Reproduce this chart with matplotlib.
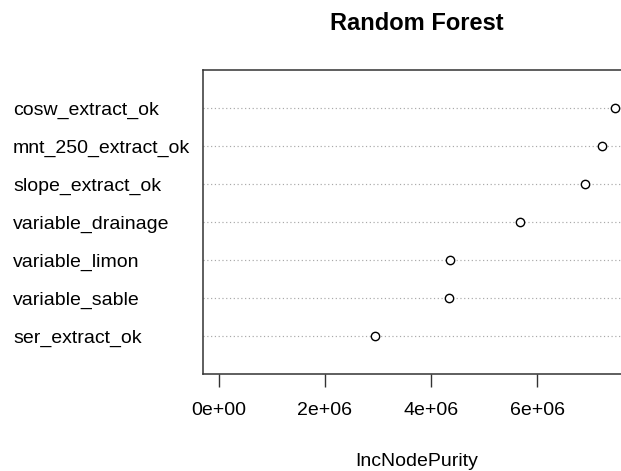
import matplotlib
matplotlib.use("Agg")
import matplotlib.pyplot as plt

# Variable importance from the random forest (IncNodePurity), bottom to top
variables = ["ser_extract_ok", "variable_sable", "variable_limon",
             "variable_drainage", "slope_extract_ok", "mnt_250_extract_ok",
             "cosw_extract_ok"]
purity = [2.94e6, 4.33e6, 4.36e6, 5.67e6, 6.90e6, 7.23e6, 7.47e6]
xticks = [0, 2e6, 4e6, 6e6]
xtick_labels = ["0e+00", "2e+06", "4e+06", "6e+06"]

plt.rcParams["font.family"] = ["Liberation Sans", "DejaVu Sans"]

W, H, DPI = 621, 471, 100
fig = plt.figure(figsize=(W / DPI, H / DPI), dpi=DPI)

# plot region in pixels (right edge runs past the canvas)
left_px, right_px, top_px, bottom_px = 203, 631, 70, 374
ax = fig.add_axes([left_px / W, 1 - bottom_px / H,
                   (right_px - left_px) / W, (bottom_px - top_px) / H])

ypos = list(range(1, len(variables) + 1))

# dotted guide lines across the plot at each variable
for y in ypos:
    ax.axhline(y, color="#a8a8a8", linestyle=(0, (1, 2.2)), linewidth=0.85,
               zorder=1)

ax.plot(purity, ypos, linestyle="none", marker="o", markersize=6,
        markerfacecolor="white", markeredgecolor="black",
        markeredgewidth=1.0, zorder=3)

xmax = max(purity)
pad = 0.04 * xmax
ax.set_xlim(0 - pad, xmax + pad)
ax.set_ylim(0, len(variables) + 1)

ax.set_xticks(xticks)
ax.set_xticklabels(xtick_labels, fontsize=14)
ax.tick_params(axis="x", length=9.5, width=1.0, color="#333333", pad=11,
               labelcolor="black")

ax.set_yticks(ypos)
ax.set_yticklabels(variables, fontsize=14, ha="left")
ax.tick_params(axis="y", length=0, pad=(left_px - 13) * 72 / DPI)

for s in ax.spines.values():
    s.set_linewidth(1.1)
    s.set_color("#333333")

fig.text(417 / W, 1 - 30 / H, "Random Forest", ha="center", va="baseline",
         fontsize=17, fontweight="bold")
fig.text(417 / W, 1 - 466 / H, "IncNodePurity", ha="center", va="baseline",
         fontsize=14)

fig.savefig("out.png", dpi=DPI)
